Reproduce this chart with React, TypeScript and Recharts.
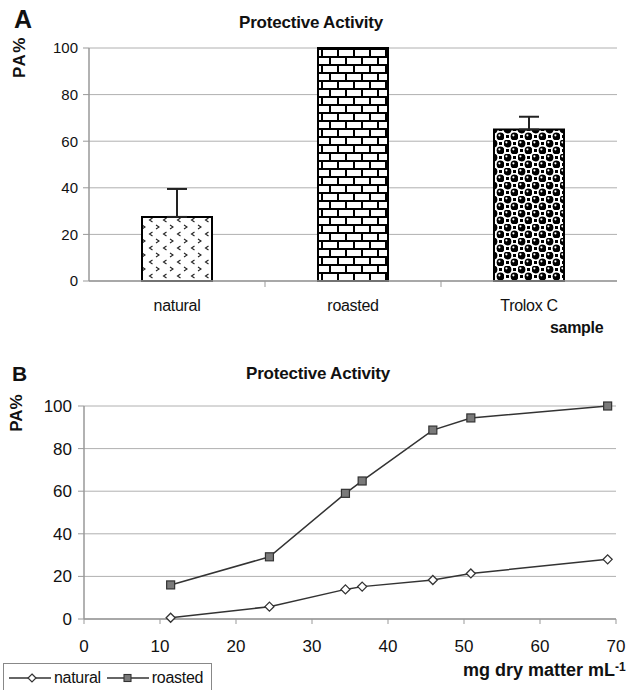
import React from 'react';
import {
  BarChart, Bar, Cell, XAxis, YAxis, CartesianGrid, ErrorBar,
  LineChart, Line, Legend,
} from 'recharts';

const FONT = '"Liberation Sans", Arial, Helvetica, sans-serif';

// ---- Panel A data ----
const sampleCategories = ['natural', 'roasted', 'Trolox C'];
const paValues = [27.5, 100, 65];
const paErrorsUp = [12, null, 5.5];
const patternIds = ['patNatural', 'patBrick', 'patDots'];
const yTicks = [0, 20, 40, 60, 80, 100];

// ---- Panel B data ----
const concentrations = [11.4, 24.4, 34.4, 36.6, 45.9, 50.9, 68.9];
const naturalPA = [0.6, 5.8, 13.9, 15.2, 18.3, 21.4, 28];
const roastedPA = [16, 29.2, 59, 64.8, 88.7, 94.4, 100];
const xTicksB = [0, 10, 20, 30, 40, 50, 60, 70];
const seriesNames = ['natural', 'roasted'];

const barData = sampleCategories.map((c, i) => ({
  sample: c,
  pa: paValues[i],
  err: paErrorsUp[i] == null ? undefined : [0, paErrorsUp[i] as number],
}));

const lineData = concentrations.map((x, i) => ({
  conc: x,
  natural: naturalPA[i],
  roasted: roastedPA[i],
}));

const CategoryTick = (props: any) => {
  const { x, y, payload, index, width, visibleTicksCount } = props;
  let off = payload && typeof payload.offset === 'number' ? payload.offset : 0;
  if (!(off > 0) && typeof width === 'number' && visibleTicksCount > 0) {
    off = width / visibleTicksCount / 2;
  }
  return (
    <g>
      {index > 0 && off > 0 ? (
        <line x1={x - off} x2={x - off} y1={y} y2={y + 6} stroke="#999" strokeWidth={1} />
      ) : null}
      <text x={x} y={y + 24} textAnchor="middle" dominantBaseline="central"
        fontSize={16} fontFamily={FONT} fill="#111" letterSpacing={-0.3}>
        {payload.value}
      </text>
    </g>
  );
};

const DiamondDot = (props: any) => {
  const { cx, cy } = props;
  if (cx == null || cy == null) return null;
  const r = 4.5;
  return (
    <path d={`M${cx},${cy - r} L${cx + r},${cy} L${cx},${cy + r} L${cx - r},${cy} Z`}
      fill="#fff" stroke="#333" strokeWidth={1.3} />
  );
};

const SquareDot = (props: any) => {
  const { cx, cy } = props;
  if (cx == null || cy == null) return null;
  return <rect x={cx - 4} y={cy - 4} width={8} height={8} fill="#7a7a7a" stroke="#333" strokeWidth={1.2} />;
};

const LegendBox = () => (
  <div style={{ display: 'flex', alignItems: 'center', height: '100%', fontFamily: FONT, fontSize: 16, color: '#111' }}>
    <svg width={44} height={12} style={{ marginLeft: 5 }}>
      <line x1={0} x2={42} y1={6} y2={6} stroke="#333" strokeWidth={1.3} />
      <path d="M23,2 L27,6 L23,10 L19,6 Z" fill="#fff" stroke="#333" strokeWidth={1.2} />
    </svg>
    <span style={{ marginLeft: 1, letterSpacing: -0.3 }}>{seriesNames[0]}</span>
    <svg width={44} height={12} style={{ marginLeft: 6 }}>
      <line x1={0} x2={42} y1={6} y2={6} stroke="#333" strokeWidth={1.3} />
      <rect x={17} y={2.5} width={7} height={7} fill="#7a7a7a" stroke="#333" strokeWidth={1.1} />
    </svg>
    <span style={{ marginLeft: 1, letterSpacing: -0.3 }}>{seriesNames[1]}</span>
  </div>
);

const abs = (left: number, top: number, extra: React.CSSProperties = {}): React.CSSProperties => ({
  position: 'absolute', left, top, fontFamily: FONT, color: '#111', whiteSpace: 'nowrap', ...extra,
});

export default function App() {
  return (
    <div style={{ position: 'absolute', left: 0, top: 0, width: 635, height: 690, background: '#fff', overflow: 'hidden' }}>
      {/* Panel A */}
      <div style={{ position: 'absolute', left: 0, top: 0 }}>
        <BarChart width={635} height={340} data={barData}
          margin={{ top: 48, right: 18, bottom: 29, left: 39 }} barSize={70}>
          <defs>
            <pattern id="patNatural" width={14} height={14} patternUnits="userSpaceOnUse" x={0} y={0}>
              <rect width={14} height={14} fill="#fff" />
              <path d="M2,1 L5,3 L2,5" fill="none" stroke="#222" strokeWidth={1.1} />
              <path d="M12.5,8 L9.5,10 L12.5,12" fill="none" stroke="#222" strokeWidth={1.1} />
            </pattern>
            <pattern id="patBrick" width={16} height={16} patternUnits="userSpaceOnUse">
              <rect width={16} height={16} fill="#fff" />
              <line x1={0} x2={16} y1={1} y2={1} stroke="#000" strokeWidth={2} />
              <line x1={0} x2={16} y1={9} y2={9} stroke="#000" strokeWidth={2} />
              <line x1={2} x2={2} y1={1} y2={9} stroke="#000" strokeWidth={2} />
              <line x1={10} x2={10} y1={9} y2={17} stroke="#000" strokeWidth={2} />
            </pattern>
            <pattern id="patDots" width={14} height={14} patternUnits="userSpaceOnUse">
              <rect width={14} height={14} fill="#fff" />
              <rect x={9} y={2} width={3} height={3} fill="#000" />
              <rect x={2} y={9} width={3} height={3} fill="#000" />
              <circle cx={3.5} cy={3.5} r={3.9} fill="#000" />
              <circle cx={10.5} cy={10.5} r={3.9} fill="#000" />
              <circle cx={2.4} cy={2.3} r={1.1} fill="#fff" />
              <circle cx={9.4} cy={9.3} r={1.1} fill="#fff" />
            </pattern>
          </defs>
          <CartesianGrid horizontal vertical={false} stroke="#b0b0b0" strokeWidth={1} />
          <XAxis dataKey="sample" height={30} axisLine={{ stroke: '#999', strokeWidth: 1.5 }}
            tickLine={false} tickSize={0} tickMargin={0} tick={<CategoryTick />} interval={0} />
          <YAxis domain={[0, 100]} ticks={yTicks} width={50} axisLine={{ stroke: '#999', strokeWidth: 1.5 }}
            tickLine={{ stroke: '#999' }} tickSize={6} tickMargin={5}
            tick={{ fontSize: 15, fontFamily: FONT, fill: '#111' }} />
          <YAxis yAxisId="right" orientation="right" domain={[0, 100]} width={0} tick={false}
            tickLine={false} axisLine={{ stroke: '#aaa', strokeWidth: 1.5 }} />
          <Bar dataKey="pa" stroke="#000" strokeWidth={2} isAnimationActive={false}>
            {barData.map((d, i) => (
              <Cell key={d.sample} fill={`url(#${patternIds[i]})`} />
            ))}
            <ErrorBar dataKey="err" width={10} stroke="#222" strokeWidth={2} direction="y" />
          </Bar>
        </BarChart>
      </div>
      <div style={abs(14, 7, { fontSize: 25, fontWeight: 'bold', lineHeight: '25px' })}>A</div>
      <div style={abs(239, 13, { fontSize: 17, fontWeight: 'bold', lineHeight: '20px', letterSpacing: -0.2 })}>Protective Activity</div>
      <div style={abs(-6, 47, { fontSize: 17, fontWeight: 'bold', lineHeight: '20px', transform: 'rotate(-90deg)', width: 52, textAlign: 'center', letterSpacing: 1.5 })}>PA%</div>
      <div style={abs(550, 318, { fontSize: 16, fontWeight: 'bold', lineHeight: '20px', letterSpacing: -0.3 })}>sample</div>

      {/* Panel B */}
      <div style={{ position: 'absolute', left: 0, top: 340 }}>
        <LineChart width={635} height={350} data={lineData}
          margin={{ top: 66, right: 19, bottom: 41, left: 34 }}>
          <CartesianGrid horizontal vertical={false} stroke="#b0b0b0" strokeWidth={1} />
          <XAxis type="number" dataKey="conc" domain={[0, 70]} ticks={xTicksB} height={30}
            axisLine={{ stroke: '#999', strokeWidth: 1.5 }} tickLine={{ stroke: '#999' }}
            tickSize={5} tickMargin={16} tick={{ fontSize: 17, fontFamily: FONT, fill: '#111' }} />
          <YAxis domain={[0, 100]} ticks={yTicks} width={50} axisLine={{ stroke: '#999', strokeWidth: 1.5 }}
            tickLine={{ stroke: '#999' }} tickSize={6} tickMargin={6}
            tick={{ fontSize: 17, fontFamily: FONT, fill: '#111' }} />
          <YAxis yAxisId="right" orientation="right" domain={[0, 100]} width={0} tick={false}
            tickLine={false} axisLine={{ stroke: '#aaa', strokeWidth: 1.5 }} />
          <Legend layout="horizontal" verticalAlign="middle" align="center" content={<LegendBox />}
            wrapperStyle={{ position: 'absolute', left: 3, top: 323, width: 209, height: 30, border: '1px solid #888', boxSizing: 'border-box', background: '#fff' }} />
          <Line type="linear" dataKey="natural" name={seriesNames[0]} stroke="#333" strokeWidth={1.5}
            dot={<DiamondDot />} isAnimationActive={false} />
          <Line type="linear" dataKey="roasted" name={seriesNames[1]} stroke="#333" strokeWidth={1.5}
            dot={<SquareDot />} isAnimationActive={false} />
        </LineChart>
      </div>
      <div style={abs(12, 363, { fontSize: 21, fontWeight: 'bold', lineHeight: '21px' })}>B</div>
      <div style={abs(246, 364, { fontSize: 17, fontWeight: 'bold', lineHeight: '20px', letterSpacing: -0.2 })}>Protective Activity</div>
      <div style={abs(-8, 403, { fontSize: 17, fontWeight: 'bold', lineHeight: '20px', transform: 'rotate(-90deg)', width: 50, textAlign: 'center' })}>PA%</div>
      <div style={abs(463, 659, { fontSize: 18, fontWeight: 'bold', lineHeight: '22px', letterSpacing: 0 })}>
        mg dry matter mL<sup style={{ fontSize: 12, verticalAlign: 'top', position: 'relative', top: -3 }}>-1</sup>
      </div>
    </div>
  );
}
